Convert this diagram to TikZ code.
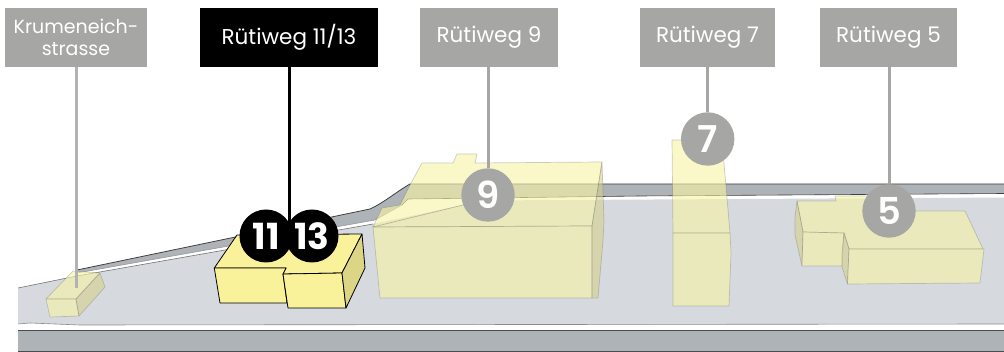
\documentclass[tikz,border=0pt]{standalone}
\usepackage{fontspec}
\setmainfont{Poppins}
\newfontfamily\nummed{Poppins SemiBold}
\definecolor{landc}{HTML}{D6DADE}
\definecolor{roadc}{HTML}{AEB3B7}
\definecolor{tagc}{HTML}{A6A6A4}
\definecolor{paleb}{RGB}{247,244,165}
\definecolor{sidep}{RGB}{214,208,140}
\definecolor{brightb}{HTML}{FAF29B}
\definecolor{brights}{HTML}{DDD586}
\tikzset{
  x=1pt,y=-1pt,
  tag/.style={fill=tagc,text=white,inner sep=0pt,align=center,font=\fontsize{21.5}{21.5}\selectfont,minimum height=59pt},
  tagdark/.style={tag,fill=black},
  num/.style={circle,fill=tagc,text=white,inner sep=0pt,minimum size=53.4pt,font=\fontsize{37}{37}\nummed},
  numdark/.style={num,fill=black,minimum size=53pt,font=\fontsize{36}{36}\selectfont\bfseries},
  lead/.style={draw=tagc,line width=3pt},
  leaddark/.style={draw=black,line width=3pt},
  pale/.style={fill=paleb,fill opacity=.61,draw=black!55,draw opacity=.35,line width=.7pt,line join=round},
  paleside/.style={fill=sidep,fill opacity=.6,draw=black!55,draw opacity=.35,line width=.7pt,line join=round},
  bright/.style={fill=brightb,draw=black,line width=.8pt,line join=round},
  brightside/.style={fill=brights,draw=black,line width=.8pt,line join=round},
  edgeline/.style={draw=black!70,line width=.7pt},
}
\begin{document}
\begin{tikzpicture}
\useasboundingbox (0,0) rectangle (1004,352);
% lower road
\fill[roadc] (18,330) rectangle (1004,351);
\draw[edgeline] (18,330) -- (1004,330);
\draw[edgeline] (18,351) -- (1004,351);
% land
\fill[landc] (18,288) -- (77,276) -- (373,224) -- (463,205) -- (480,200.5) -- (1004,197.5) -- (1004,324) -- (300,325) -- (80,325) -- (30,323) -- (18,324) -- cycle;
\draw[black!55,line width=.6pt] (18,288) -- (77,276) -- (373,224);
\draw[black!45,line width=.6pt] (18,324) -- (30,323) -- (80,325) -- (1004,324);
% upper road
\fill[roadc] (77,270) -- (370,209) .. controls (385,202) and (396,192) .. (410,184) -- (1004,184) -- (1004,193.5) -- (640,196) -- (408,199) -- (402,205) -- (375,220) -- (77,273) -- cycle;
\draw[black!75,line width=.8pt] (77,270) -- (370,209) .. controls (385,202) and (396,192) .. (410,184) -- (1004,184);
\draw[black!75,line width=.6pt] (1004,193.5) -- (640,196) -- (408,199) -- (402,205);
\draw[black!40,line width=.6pt] (402,205) -- (375,220) -- (77,273);
% Krumeneichstrasse building
\path[pale] (46,299) -- (73,271) -- (100,273) -- (76,299) -- cycle;
\path[pale] (46,299) -- (76,299) -- (79,316) -- (50,317) -- cycle;
\path[paleside] (76,299) -- (100,273) -- (105,287) -- (79,316) -- cycle;
% Ruetiweg 9 building
\path[pale] (422,163) -- (453,163) -- (457,154) -- (477,154) -- (475,163) -- (602,162) -- (592,226) -- (373,227) -- (382,208) -- (400,205) -- (410,185) -- cycle;
\path[pale] (373,227) -- (592,226) -- (592,298) -- (380,298) -- cycle;
\path[paleside] (602,162) -- (604,222) -- (603,240) -- (598,298) -- (592,298) -- (592,226) -- cycle;
\draw[black!50,draw opacity=.5,line width=.7pt] (373,227) -- (463,205);
% Ruetiweg 7 building
\path[pale] (672,140) -- (722,140) -- (730,233) -- (673,233) -- cycle;
\path[pale] (673,233) -- (730,233) -- (731,253) -- (729,306) -- (673,306) -- cycle;
% Ruetiweg 5 building
\path[pale] (797,201) -- (836,201) -- (835,196) -- (867,196) -- (890,211) -- (965,211) -- (983,249) -- (849,249) -- (844,233) -- (803,232) -- cycle;
\path[paleside] (797,201) -- (795,217) -- (795,235) -- (802,266) -- (803,232) -- cycle;
\path[pale] (803,232) -- (844,233) -- (842,266) -- (802,266) -- cycle;
\path[paleside] (844,233) -- (849,249) -- (847.5,284) -- (842,267) -- (842,253) -- cycle;
\path[pale] (849,249) -- (984,249) -- (980,283) -- (847.5,284) -- cycle;
% Ruetiweg 11/13 buildings
\path[bright] (214.3,268) -- (237,235) -- (362,234) -- (342,273) -- (283,274) -- (286,268) -- (282,268) -- cycle;
\path[bright] (214.3,268) -- (282,268) -- (286,268) -- (283,274) -- (287,303) -- (220,303) -- cycle;
\path[bright] (283,274) -- (342,273) -- (346,308) -- (288,308) -- cycle;
\path[brightside] (342,273) -- (362,234) -- (365,268) -- (346,308) -- cycle;
% tags
\node[tag,minimum width=142pt,font=\fontsize{19}{22.5}\selectfont] (tk) at (76,37.5) {Krumeneich-\\strasse};
\node[tagdark,minimum width=178pt] (t11) at (289,37.5) {Rütiweg 11/13};
\node[tag,minimum width=138pt] (t9) at (489,37.5) {Rütiweg 9};
\node[tag,minimum width=135pt] (t7) at (707.5,37.5) {Rütiweg 7};
\node[tag,minimum width=137pt] (t5) at (888.5,37.5) {Rütiweg 5};
% circles
\node[num] (c9) at (488,195) {9};
\node[num] (c7) at (707.7,139) {7};
\node[num] (c5) at (889,211) {5};
\node[numdark] (c11) at (266,236) {11};
\node[numdark] (c13) at (312,236) {13};
% connectors
\coordinate (kend) at (76,288);
\coordinate (j) at (289,225);
\draw[lead,draw=black!30] (tk.south) -- (kend);
\draw[leaddark] (t11.south) -- (j);
\draw[lead] (c9.north |- t9.south) -- (c9.north);
\draw[lead] (c7.north |- t7.south) -- (c7.north);
\draw[lead] (c5.north |- t5.south) -- (c5.north);
\end{tikzpicture}
\end{document}
